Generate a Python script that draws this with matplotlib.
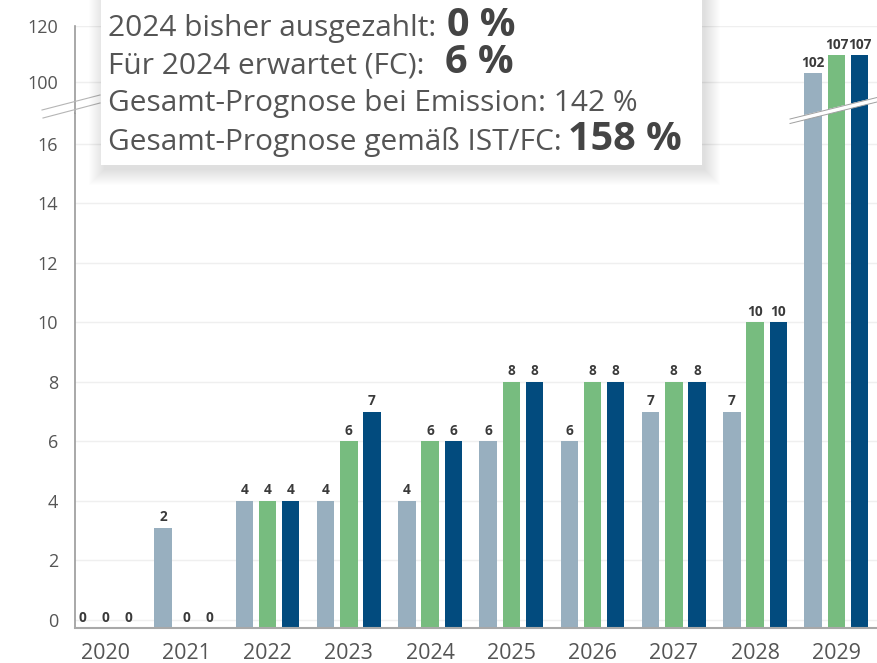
import numpy as np
import matplotlib.pyplot as plt
from matplotlib.patches import Rectangle

plt.rcParams['font.family'] = ['Open Sans', 'DejaVu Sans']

# --- data -------------------------------------------------------------------
years = ['2020', '2021', '2022', '2023', '2024', '2025', '2026', '2027', '2028', '2029']

# bar heights as drawn (in %)
ausgezahlt = [0, 3.1, 4, 4, 4, 6, 6, 7, 7, 103.2]
prognose_emission = [0, 0, 4, 6, 6, 8, 8, 8, 10, 109.5]
prognose_ist_fc = [0, 0, 4, 7, 6, 8, 8, 8, 10, 109.5]

# numbers printed above the bars
ausgezahlt_lbl = [0, 2, 4, 4, 4, 6, 6, 7, 7, 102]
prognose_emission_lbl = [0, 0, 4, 6, 6, 8, 8, 8, 10, 107]
prognose_ist_fc_lbl = [0, 0, 4, 7, 6, 8, 8, 8, 10, 107]

lower_ticks = [0, 2, 4, 6, 8, 10, 12, 14, 16]
upper_ticks = [100, 120]

COLORS = ['#98afbf', '#77bc7f', '#024b7e']

# --- layout -----------------------------------------------------------------
W, H = 877, 663
fig = plt.figure(figsize=(W / 100, H / 100), dpi=100)
fig.patch.set_facecolor('white')


def fy(px):
    return 1 - px / H


AX_L = 75 / W
ax_lo = fig.add_axes([AX_L, fy(628), 1 - AX_L, fy(113) - fy(628)])
ax_hi = fig.add_axes([AX_L, fy(113), 1 - AX_L, fy(26) - fy(113)])

BASE = -0.27
BREAK = 17.04
ax_lo.set_ylim(BASE, BREAK)
ax_hi.set_ylim(88.93, 120)

x = np.arange(len(years))
bw = 0.215
offsets = [-0.285, 0, 0.285]
series = [ausgezahlt, prognose_emission, prognose_ist_fc]
labels = [ausgezahlt_lbl, prognose_emission_lbl, prognose_ist_fc_lbl]

for ax in (ax_lo, ax_hi):
    for vals, off, c in zip(series, offsets, COLORS):
        v = np.array(vals, dtype=float)
        h = np.where(v > 0, v - BASE, 0)
        ax.bar(x + off, h, bottom=BASE, width=bw, color=c, zorder=3)
    ax.set_xlim(-0.37, 9.5)
    for s in ('top', 'right'):
        ax.spines[s].set_visible(False)
    ax.spines['left'].set_color('#9a9a9a')
    ax.spines['left'].set_linewidth(1.2)
    ax.grid(axis='y', color='#efefef', linewidth=1, zorder=0)
    ax.tick_params(axis='y', length=0, pad=12, labelsize=13, labelcolor='#555555')

ax_lo.set_yticks(lower_ticks)
ax_hi.set_yticks(upper_ticks)
ax_hi.spines['bottom'].set_visible(False)
ax_hi.set_xticks([])
ax_lo.spines['bottom'].set_color('#a8a8a8')
ax_lo.spines['bottom'].set_linewidth(1.5)
ax_lo.spines['bottom'].set_zorder(4)
ax_lo.set_xticks(x)
ax_lo.set_xticklabels(years)
ax_lo.tick_params(axis='x', length=0, pad=11, labelsize=15.5, labelcolor='#555555')

# value labels
for vals, lbls, off in zip(series, labels, offsets):
    for xi, v, lb in zip(x, vals, lbls):
        target = ax_hi if v > BREAK else ax_lo
        y = v if v > 0 else BASE
        target.annotate(str(lb), (xi + off, y), xytext=(0, 2.5), textcoords='offset points',
                        ha='center', va='bottom', fontsize=9.8, fontweight='bold',
                        color='#3a3a3a', zorder=5, annotation_clip=False)

# --- overlay: axis break marks and info box ---------------------------------
ov = fig.add_axes([0, 0, 1, 1])
ov.set_xlim(0, W)
ov.set_ylim(H, 0)
ov.axis('off')
ov.set_zorder(10)

# break marks on the left axis
ov.plot([42, 100], [110, 95], color='#b5b5b5', lw=0.8)
ov.plot([43, 100], [118, 103], color='#b5b5b5', lw=0.8)
# break band across the last group
ov.plot([790, 877], [121, 99.5], color='white', lw=3.5, solid_capstyle='butt')
ov.plot([790, 877], [119, 97.5], color='#a0a0a0', lw=0.7)
ov.plot([790, 877], [123.5, 102], color='#a0a0a0', lw=0.7)

# soft shadow + white box
for k in range(16):
    ov.add_patch(Rectangle((101 + 3 - k, -10), 601 + 2 * k, 175 + 5 + k,
                           facecolor='black', edgecolor='none', alpha=0.008, zorder=2))
ov.add_patch(Rectangle((101, -10), 601, 175, facecolor='white', edgecolor='none', zorder=3))

REG = dict(fontsize=21.5, color='#555555', va='baseline', ha='left', zorder=4)
BOLD = dict(fontsize=28.5, color='#444444', va='baseline', ha='left', fontweight='bold', zorder=4)

ov.text(108, 36, '2024 bisher ausgezahlt:', **REG)
ov.text(447, 36, '0 %', **BOLD)
ov.text(108, 73, 'Für 2024 erwartet (FC):', **REG)
ov.text(445, 73, '6 %', **BOLD)
ov.text(108, 111, 'Gesamt-Prognose bei Emission: 142 %', **REG)
ov.text(108, 150, 'Gesamt-Prognose gemäß IST/FC:', **REG)
ov.text(568, 150, '158 %', **BOLD)

fig.savefig('out.png', dpi=100)
